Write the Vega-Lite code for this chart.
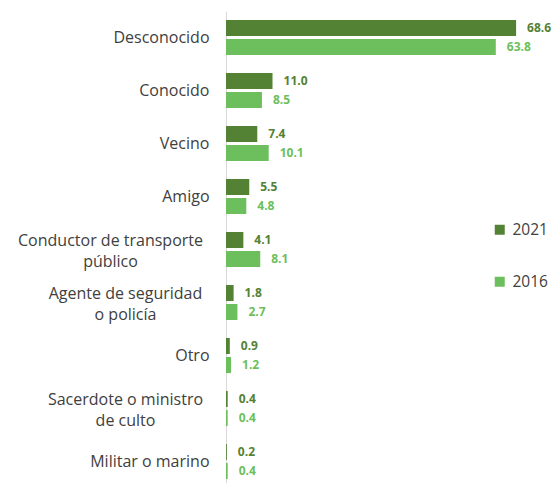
{
  "$schema": "https://vega.github.io/schema/vega-lite/v6.json",
  "autosize": "none",
  "padding": {"left": 226, "top": 11, "right": 0, "bottom": 0},
  "width": 329,
  "height": 472,
  "background": "white",
  "data": {"values": [
    {"cat": "Desconocido", "year": "2021", "v": 68.6},
    {"cat": "Desconocido", "year": "2016", "v": 63.8},
    {"cat": "Conocido", "year": "2021", "v": 11.0},
    {"cat": "Conocido", "year": "2016", "v": 8.5},
    {"cat": "Vecino", "year": "2021", "v": 7.4},
    {"cat": "Vecino", "year": "2016", "v": 10.1},
    {"cat": "Amigo", "year": "2021", "v": 5.5},
    {"cat": "Amigo", "year": "2016", "v": 4.8},
    {"cat": "Conductor de transporte público", "year": "2021", "v": 4.1},
    {"cat": "Conductor de transporte público", "year": "2016", "v": 8.1},
    {"cat": "Agente de seguridad o policía", "year": "2021", "v": 1.8},
    {"cat": "Agente de seguridad o policía", "year": "2016", "v": 2.7},
    {"cat": "Otro", "year": "2021", "v": 0.9},
    {"cat": "Otro", "year": "2016", "v": 1.2},
    {"cat": "Sacerdote o ministro de culto", "year": "2021", "v": 0.4},
    {"cat": "Sacerdote o ministro de culto", "year": "2016", "v": 0.4},
    {"cat": "Militar o marino", "year": "2021", "v": 0.2},
    {"cat": "Militar o marino", "year": "2016", "v": 0.4}
  ]},
  "encoding": {
    "y": {
      "field": "cat", "type": "nominal", "sort": null, "title": null,
      "scale": {"range": [0, 477], "paddingInner": 0, "paddingOuter": 0},
      "axis": {
        "domainColor": "#d9d9d9", "domainWidth": 1, "ticks": false,
        "labelFont": "Open Sans", "labelFontSize": 16, "labelColor": "#404040",
        "labelLineHeight": 21, "labelLimit": 0,
        "labelExpr": "datum.value === 'Conductor de transporte público' ? ['Conductor de transporte', 'público'] : datum.value === 'Agente de seguridad o policía' ? ['Agente de seguridad', 'o policía'] : datum.value === 'Sacerdote o ministro de culto' ? ['Sacerdote o ministro', 'de culto'] : datum.label",
        "labelAlign": {"condition": {"test": "indexof(['Conductor de transporte público','Agente de seguridad o policía','Sacerdote o ministro de culto'], datum.value) >= 0", "value": "center"}, "value": "right"},
        "labelOffset": {"condition": {"test": "indexof(['Conductor de transporte público','Agente de seguridad o policía','Sacerdote o ministro de culto'], datum.value) >= 0", "value": -9}, "value": 0},
        "labelPadding": {"condition": [
          {"test": "datum.value === 'Conductor de transporte público'", "value": 116},
          {"test": "indexof(['Agente de seguridad o policía','Sacerdote o ministro de culto'], datum.value) >= 0", "value": 101}
        ], "value": 17}
      }
    },
    "yOffset": {
      "field": "year", "type": "nominal", "sort": ["2021", "2016"],
      "scale": {"paddingInner": 0.158, "paddingOuter": 0.474}
    },
    "x": {
      "field": "v", "type": "quantitative", "title": null, "axis": null,
      "scale": {"domain": [0, 77.8], "nice": false}
    },
    "color": {
      "field": "year", "type": "nominal",
      "scale": {"domain": ["2021", "2016"], "range": ["#548235", "#6cbf5c"]},
      "legend": {
        "title": null, "orient": "none", "legendX": 266, "legendY": 211,
        "symbolType": "square", "symbolSize": 100, "symbolStrokeWidth": 0,
        "labelFont": "Open Sans", "labelFontSize": 15.5, "labelColor": "#404040",
        "labelOffset": 5, "rowPadding": 35
      }
    }
  },
  "layer": [
    {"mark": {"type": "bar"}},
    {
      "mark": {"type": "text", "align": "left", "baseline": "middle", "dx": 11, "font": "Open Sans", "fontWeight": "bold", "fontSize": 12},
      "encoding": {"text": {"field": "v", "type": "quantitative", "format": ".1f"}}
    }
  ],
  "config": {"view": {"stroke": null}}
}
